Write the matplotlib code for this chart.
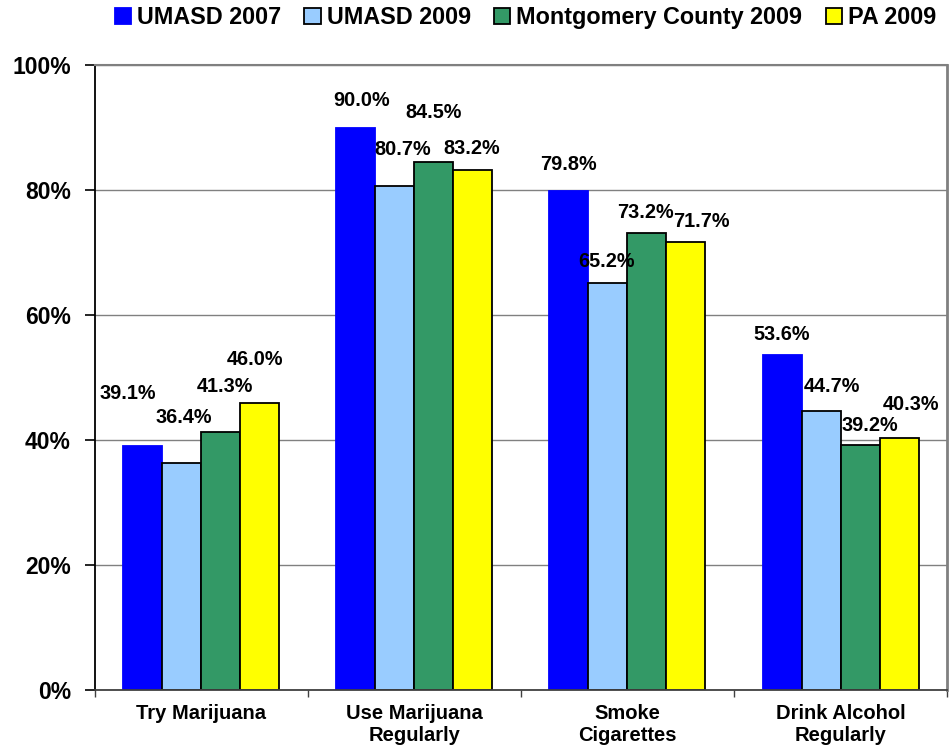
import matplotlib
matplotlib.use('Agg')
import matplotlib.pyplot as plt
import numpy as np
from matplotlib.patches import Patch

plt.rcParams['font.family'] = ['Liberation Sans', 'DejaVu Sans']
plt.rcParams['font.weight'] = 'bold'

categories = ['Try Marijuana', 'Use Marijuana\nRegularly', 'Smoke\nCigarettes', 'Drink Alcohol\nRegularly']
series_names = ['UMASD 2007', 'UMASD 2009', 'Montgomery County 2009', 'PA 2009']
umasd_2007 = [39.1, 90.0, 79.8, 53.6]
umasd_2009 = [36.4, 80.7, 65.2, 44.7]
montco_2009 = [41.3, 84.5, 73.2, 39.2]
pa_2009 = [46.0, 83.2, 71.7, 40.3]
y_ticks = [0, 20, 40, 60, 80, 100]

colors = ['#0000FF', '#99CCFF', '#339966', '#FFFF00']
edges = ['#0000FF', 'black', 'black', 'black']

# where the value labels sit, pixels from the top centre of each bar
label_shift = [
    [(-15, 52), (6, 27), (0, 27), (0, 21)],
    [(2, 45), (8, 36), (-1, 21), (11, 24)],
    [(4, 45), (0, 49), (-1, 20), (10, 20)],
    [(-5, 43), (-1, 22), (15, 20), (12, 34)],
]

data = [umasd_2007, umasd_2009, montco_2009, pa_2009]

fig = plt.figure(figsize=(9.5, 7.46), dpi=100)
ax = fig.add_axes([0.0995, 0.075, 0.8975, 0.8378])

x = np.arange(len(categories))
w = 0.183
for j, vals in enumerate(data):
    pos = x + (j - 1.5) * w
    ax.bar(pos, vals, w, color=colors[j], edgecolor=edges[j], linewidth=1.3, zorder=3)
    for i, v in enumerate(vals):
        dx, dy = label_shift[j][i]
        ax.annotate('%.1f%%' % v, xy=(pos[i], v), xytext=(dx, dy), textcoords='offset pixels',
                    ha='center', va='center', fontsize=14.3, fontweight='bold', zorder=5)

ax.set_xlim(-0.5, 3.5)
ax.set_ylim(0, 100)
ax.set_yticks(y_ticks)
ax.set_yticklabels(['%d%%' % t for t in y_ticks], fontsize=16.5, fontweight='bold')
ax.yaxis.grid(True, color='#808080', linewidth=1.0, zorder=0)
ax.tick_params(axis='y', direction='out', length=7, width=1.2, color='black', pad=10)

ax.set_xticks(x)
ax.set_xticklabels(categories, fontsize=14.5, fontweight='bold', linespacing=1.2)
ax.tick_params(axis='x', which='major', length=0, pad=10)
ax.set_xticks(np.arange(-0.5, 4.0, 1.0), minor=True)
ax.tick_params(axis='x', which='minor', direction='out', length=5, width=1.0, color='#404040')

ax.spines['left'].set_color('black')
ax.spines['left'].set_linewidth(1.3)
ax.spines['bottom'].set_color('#404040')
ax.spines['bottom'].set_linewidth(1.3)
ax.spines['bottom'].set_zorder(4)
ax.spines['top'].set_color('#808080')
ax.spines['right'].set_color('#808080')
ax.spines['top'].set_linewidth(1.5)
ax.spines['right'].set_linewidth(2.0)

handles = [Patch(facecolor=colors[j], edgecolor=edges[j], linewidth=1.3) for j in range(4)]
fig.legend(handles, series_names, loc='center', bbox_to_anchor=(0.553, 0.976), ncol=4,
           frameon=False, handlelength=0.7, handleheight=0.7,
           handletextpad=0.25, columnspacing=1.0, prop={'weight': 'bold', 'size': 16.8})

fig.savefig('out.png', dpi=100)
